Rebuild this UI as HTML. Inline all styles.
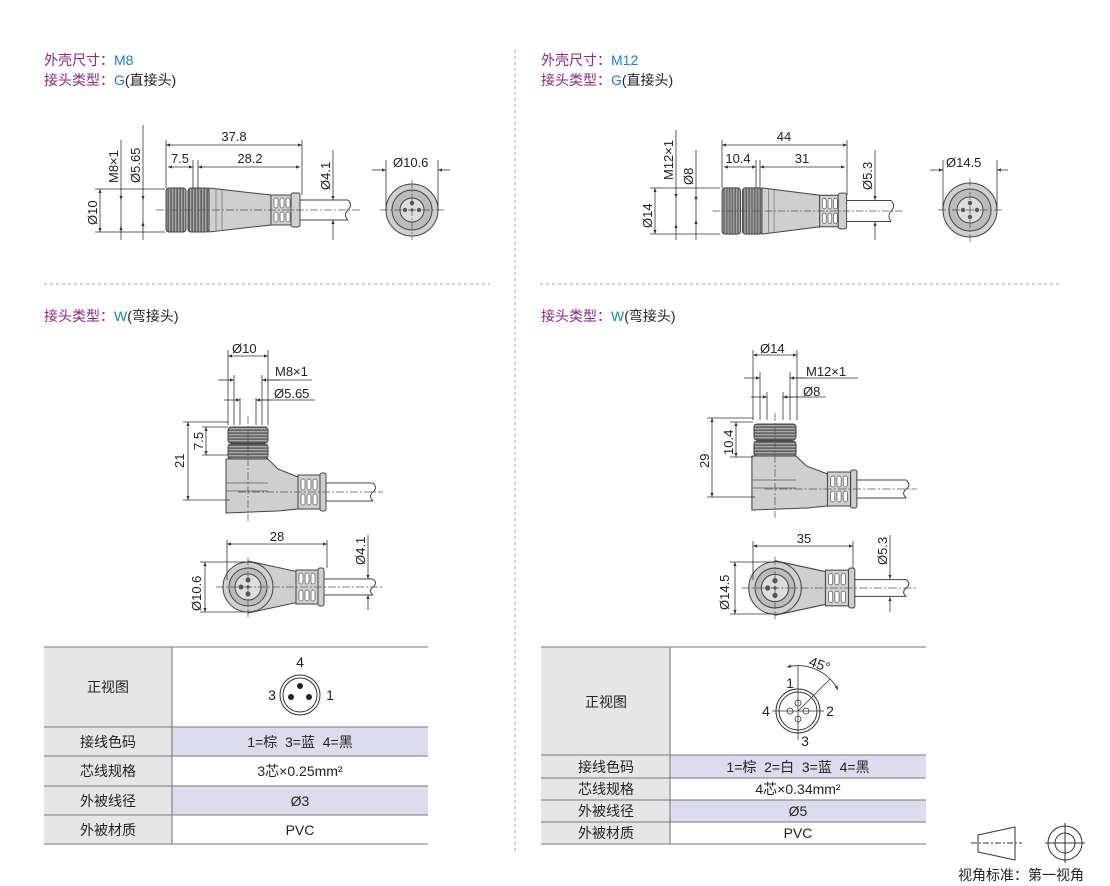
<!DOCTYPE html>
<html><head><meta charset="utf-8"><style>
body{margin:0;background:#fff;width:1110px;height:886px;overflow:hidden}
svg{display:block}
text{font-family:"Liberation Sans","Noto Sans CJK SC",sans-serif;fill:#222}
.p{fill:#8a2a7d}.b{fill:#1f7fc4}
.d{stroke:#333;stroke-width:0.8;fill:none}
.c{stroke:#555;stroke-width:0.7;stroke-dasharray:8 2 2 2;fill:none}
.o{stroke:#444;stroke-width:1;}
</style></head><body>
<svg width="1110" height="886" viewBox="0 0 1110 886">
<defs>
<marker id="a" viewBox="0 0 10 10" refX="10" refY="5" markerWidth="7" markerHeight="5" orient="auto-start-reverse"><path d="M0,1 L10,5 L0,9z" fill="#333"/></marker>
<pattern id="k" width="3" height="4" patternUnits="userSpaceOnUse"><rect width="3" height="4" fill="#666"/><rect width="1.3" height="4" fill="#aaa"/></pattern>
<pattern id="kv" width="4" height="3" patternUnits="userSpaceOnUse"><rect width="4" height="3" fill="#666"/><rect width="4" height="1.3" fill="#aaa"/></pattern>
<g id="st">
 <rect x="0" y="-22" width="20" height="44" rx="3" fill="url(#k)" class="o"/>
 <rect x="22" y="-22" width="21" height="44" rx="3" fill="url(#k)" class="o"/>
 <path d="M43,-22 L105,-15 L105,15 L43,22z" fill="#cfcfcf" class="o"/>
 <line x1="50" y1="-21" x2="50" y2="21" stroke="#888"/><line x1="56" y1="-20" x2="56" y2="20" stroke="#888"/>
 <rect x="105" y="-15" width="20" height="30" fill="#cfcfcf" class="o"/>
 <g fill="#fff" stroke="#555" stroke-width="0.7">
 <rect x="108" y="-12" width="4" height="10" rx="2"/><rect x="114" y="-12" width="4" height="10" rx="2"/><rect x="120" y="-12" width="4" height="10" rx="2"/>
 <rect x="108" y="2" width="4" height="10" rx="2"/><rect x="114" y="2" width="4" height="10" rx="2"/><rect x="120" y="2" width="4" height="10" rx="2"/></g>
 <rect x="125" y="-17" width="9" height="34" rx="2" fill="#cfcfcf" class="o"/>
 <path d="M134,-10 H182 M134,10 H182" class="o" stroke="#444" fill="none"/>
 <path d="M182,-10 q5,5 0,10 q-5,5 0,10" class="o" fill="none"/>
 <line x1="-10" y1="0" x2="195" y2="0" class="c"/>
</g>
<g id="bt">
 <rect x="-20" y="-34" width="40" height="16" rx="3" fill="url(#kv)" class="o"/>
 <rect x="-20" y="-17" width="40" height="15" rx="3" fill="url(#kv)" class="o"/>
 <path d="M-22,-2 H20 L30,8 L50,16 L50,48 L30,50 L-22,52 Z" fill="#cfcfcf" class="o"/>
 <path d="M-22,22 H20 M-22,30 H20" stroke="#777" fill="none"/>
 <rect x="50" y="14" width="22" height="34" fill="#cfcfcf" class="o"/>
 <g fill="#fff" stroke="#555" stroke-width="0.7">
 <rect x="53" y="18" width="4" height="11" rx="2"/><rect x="59" y="18" width="4" height="11" rx="2"/><rect x="65" y="18" width="4" height="11" rx="2"/>
 <rect x="53" y="33" width="4" height="11" rx="2"/><rect x="59" y="33" width="4" height="11" rx="2"/><rect x="65" y="33" width="4" height="11" rx="2"/></g>
 <rect x="72" y="12" width="6" height="38" rx="2" fill="#cfcfcf" class="o"/>
 <path d="M78,22 H125 M78,40 H125" stroke="#444" fill="none"/>
 <path d="M125,22 q5,5 0,9 q-5,4 0,9" class="o" fill="none"/>
 <line x1="0" y1="-45" x2="0" y2="60" class="c"/><line x1="-10" y1="31" x2="135" y2="31" class="c"/>
</g>
<g id="bb">
 <path d="M0,-26 L60,-13 L60,13 L0,26z" fill="#cfcfcf" class="o"/>
 <circle r="25" fill="#cfcfcf" class="o"/><circle r="19" fill="#bbb" class="o"/><circle r="13" fill="#ddd" class="o"/>
 <circle cx="0" cy="-7" r="2.5" fill="#555"/><circle cx="-7" cy="0" r="2.5" fill="#555"/><circle cx="0" cy="7" r="2.5" fill="#555"/><circle r="1.6" fill="#555"/>
 <rect x="48" y="-17" width="22" height="34" fill="#cfcfcf" class="o"/>
 <g fill="#fff" stroke="#555" stroke-width="0.7">
 <rect x="51" y="-14" width="4" height="11" rx="2"/><rect x="57" y="-14" width="4" height="11" rx="2"/><rect x="63" y="-14" width="4" height="11" rx="2"/>
 <rect x="51" y="3" width="4" height="11" rx="2"/><rect x="57" y="3" width="4" height="11" rx="2"/><rect x="63" y="3" width="4" height="11" rx="2"/></g>
 <rect x="70" y="-19" width="6" height="38" rx="2" fill="#cfcfcf" class="o"/>
 <path d="M76,-8 H125 M76,8 H125" stroke="#444" fill="none"/>
 <path d="M125,-8 q5,4 0,8 q-5,4 0,8" class="o" fill="none"/>
 <line x1="-32" y1="0" x2="135" y2="0" class="c"/><line x1="0" y1="-30" x2="0" y2="30" class="c"/>
</g>
</defs>

<line x1="515" y1="50" x2="515" y2="852" stroke="#aaa" stroke-dasharray="3 3"/>
<line x1="44" y1="284" x2="490" y2="284" stroke="#aaa" stroke-dasharray="3 3"/>
<line x1="540" y1="284" x2="1060" y2="284" stroke="#aaa" stroke-dasharray="3 3"/>

<g font-size="14">
<text x="44" y="65"><tspan class="p">外壳尺寸：</tspan><tspan class="b">M8</tspan></text>
<text x="44" y="85"><tspan class="p">接头类型：</tspan><tspan class="b">G</tspan><tspan>(直接头)</tspan></text>
<text x="541" y="65"><tspan class="p">外壳尺寸：</tspan><tspan class="b">M12</tspan></text>
<text x="541" y="85"><tspan class="p">接头类型：</tspan><tspan class="b">G</tspan><tspan>(直接头)</tspan></text>
<text x="44" y="321"><tspan class="p">接头类型：</tspan><tspan class="b">W</tspan><tspan>(弯接头)</tspan></text>
<text x="541" y="321"><tspan class="p">接头类型：</tspan><tspan class="b">W</tspan><tspan>(弯接头)</tspan></text>
</g>

<use href="#st" x="166" y="210"/>
<g class="d">
<line x1="166" y1="140" x2="166" y2="188"/><line x1="302" y1="140" x2="302" y2="195"/>
<line x1="166" y1="145" x2="302" y2="145" marker-start="url(#a)" marker-end="url(#a)"/>
<line x1="193" y1="160" x2="193" y2="188"/><line x1="198" y1="160" x2="198" y2="188"/>
<line x1="168" y1="167" x2="193" y2="167" marker-start="url(#a)" marker-end="url(#a)"/>
<line x1="198" y1="167" x2="300" y2="167" marker-start="url(#a)" marker-end="url(#a)"/>
<line x1="95" y1="189" x2="165" y2="189"/><line x1="95" y1="232" x2="165" y2="232"/>
<line x1="100" y1="189" x2="100" y2="232" marker-start="url(#a)" marker-end="url(#a)"/>
<line x1="121" y1="140" x2="121" y2="240"/><line x1="143" y1="125" x2="143" y2="240"/>
<line x1="121" y1="195" x2="121" y2="200" marker-end="url(#a)"/><line x1="121" y1="232" x2="121" y2="226" marker-end="url(#a)"/>
<line x1="143" y1="195" x2="143" y2="200" marker-end="url(#a)"/><line x1="143" y1="228" x2="143" y2="222" marker-end="url(#a)"/>
<line x1="333" y1="150" x2="333" y2="200" marker-end="url(#a)"/><line x1="333" y1="240" x2="333" y2="220" marker-end="url(#a)"/>
</g>
<g font-size="13">
<text x="234" y="141" text-anchor="middle">37.8</text>
<text x="180" y="163" text-anchor="middle">7.5</text>
<text x="250" y="163" text-anchor="middle">28.2</text>
<text transform="translate(97,225) rotate(-90)">Ø10</text>
<text transform="translate(118,183) rotate(-90)">M8×1</text>
<text transform="translate(140,183) rotate(-90)">Ø5.65</text>
<text transform="translate(330,190) rotate(-90)">Ø4.1</text>
<text x="393" y="167">Ø10.6</text>
</g>
<g>
<circle cx="412" cy="210" r="26" fill="#cfcfcf" class="o"/><circle cx="412" cy="210" r="20" fill="#bbb" class="o"/><circle cx="412" cy="210" r="12" fill="#ddd" class="o"/>
<circle cx="412" cy="203" r="2.2" fill="#555"/><circle cx="405" cy="210" r="2.2" fill="#555"/><circle cx="419" cy="210" r="2.2" fill="#555"/><circle cx="412" cy="210" r="1.5" fill="#555"/>
<line x1="380" y1="210" x2="444" y2="210" class="c"/><line x1="412" y1="180" x2="412" y2="240" class="c"/>
<g class="d"><line x1="386" y1="160" x2="386" y2="210"/><line x1="438" y1="160" x2="438" y2="210"/>
<line x1="372" y1="170" x2="386" y2="170" marker-end="url(#a)"/><line x1="450" y1="170" x2="438" y2="170" marker-end="url(#a)"/></g>
</g>

<use href="#st" x="0" y="0" transform="translate(722,211) scale(0.93,1.05)"/>
<g class="d">
<line x1="722" y1="140" x2="722" y2="188"/><line x1="847" y1="140" x2="847" y2="195"/>
<line x1="722" y1="145" x2="847" y2="145" marker-start="url(#a)" marker-end="url(#a)"/>
<line x1="756" y1="160" x2="756" y2="188"/><line x1="760" y1="160" x2="760" y2="188"/>
<line x1="724" y1="167" x2="756" y2="167" marker-start="url(#a)" marker-end="url(#a)"/>
<line x1="760" y1="167" x2="845" y2="167" marker-start="url(#a)" marker-end="url(#a)"/>
<line x1="650" y1="188" x2="720" y2="188"/><line x1="650" y1="234" x2="720" y2="234"/>
<line x1="655" y1="188" x2="655" y2="234" marker-start="url(#a)" marker-end="url(#a)"/>
<line x1="676" y1="130" x2="676" y2="240"/><line x1="696" y1="150" x2="696" y2="240"/>
<line x1="676" y1="193" x2="676" y2="198" marker-end="url(#a)"/><line x1="676" y1="230" x2="676" y2="224" marker-end="url(#a)"/>
<line x1="696" y1="196" x2="696" y2="201" marker-end="url(#a)"/><line x1="696" y1="226" x2="696" y2="220" marker-end="url(#a)"/>
<line x1="875" y1="150" x2="875" y2="200" marker-end="url(#a)"/><line x1="875" y1="240" x2="875" y2="222" marker-end="url(#a)"/>
</g>
<g font-size="13">
<text x="784" y="141" text-anchor="middle">44</text>
<text x="738" y="163" text-anchor="middle">10.4</text>
<text x="802" y="163" text-anchor="middle">31</text>
<text transform="translate(652,228) rotate(-90)">Ø14</text>
<text transform="translate(673,180) rotate(-90)">M12×1</text>
<text transform="translate(693,185) rotate(-90)">Ø8</text>
<text transform="translate(872,190) rotate(-90)">Ø5.3</text>
<text x="946" y="167">Ø14.5</text>
</g>
<g>
<circle cx="970" cy="210" r="27" fill="#cfcfcf" class="o"/><circle cx="970" cy="210" r="21" fill="#bbb" class="o"/><circle cx="970" cy="210" r="13" fill="#ddd" class="o"/>
<circle cx="970" cy="203" r="2.2" fill="#555"/><circle cx="963" cy="210" r="2.2" fill="#555"/><circle cx="977" cy="210" r="2.2" fill="#555"/><circle cx="970" cy="217" r="2.2" fill="#555"/>
<line x1="938" y1="210" x2="1002" y2="210" class="c"/><line x1="970" y1="178" x2="970" y2="242" class="c"/>
<g class="d"><line x1="943" y1="160" x2="943" y2="210"/><line x1="997" y1="160" x2="997" y2="210"/>
<line x1="930" y1="170" x2="943" y2="170" marker-end="url(#a)"/><line x1="1008" y1="170" x2="997" y2="170" marker-end="url(#a)"/></g>
</g>

<use href="#bt" x="248" y="461"/>
<g class="d">
<line x1="228" y1="350" x2="228" y2="425"/><line x1="268" y1="350" x2="268" y2="425"/>
<line x1="228" y1="356" x2="268" y2="356" marker-start="url(#a)" marker-end="url(#a)"/>
<line x1="234" y1="375" x2="234" y2="425"/><line x1="262" y1="375" x2="262" y2="425"/>
<line x1="218" y1="380" x2="234" y2="380" marker-end="url(#a)"/><line x1="280" y1="380" x2="262" y2="380" marker-end="url(#a)"/><line x1="262" y1="380" x2="312" y2="380"/>
<line x1="240" y1="398" x2="240" y2="425"/><line x1="256" y1="398" x2="256" y2="425"/>
<line x1="224" y1="400" x2="240" y2="400" marker-end="url(#a)"/><line x1="272" y1="400" x2="256" y2="400" marker-end="url(#a)"/><line x1="256" y1="400" x2="315" y2="400"/>
<line x1="183" y1="422" x2="228" y2="422"/><line x1="183" y1="500" x2="230" y2="500"/>
<line x1="188" y1="422" x2="188" y2="500" marker-start="url(#a)" marker-end="url(#a)"/>
<line x1="202" y1="427" x2="228" y2="427"/><line x1="202" y1="455" x2="228" y2="455"/>
<line x1="206" y1="427" x2="206" y2="455" marker-start="url(#a)" marker-end="url(#a)"/>
</g>
<g font-size="13">
<text x="232" y="353">Ø10</text><text x="275" y="376">M8×1</text><text x="274" y="398">Ø5.65</text>
<text transform="translate(184,468) rotate(-90)">21</text>
<text transform="translate(203,450) rotate(-90)">7.5</text>
<text x="277" y="541" text-anchor="middle">28</text>
<text transform="translate(201,611) rotate(-90)">Ø10.6</text>
<text transform="translate(365,565) rotate(-90)">Ø4.1</text>
</g>
<use href="#bb" x="248" y="587"/>
<g class="d">
<line x1="227" y1="540" x2="227" y2="580"/><line x1="327" y1="540" x2="327" y2="568"/>
<line x1="227" y1="544" x2="327" y2="544" marker-start="url(#a)" marker-end="url(#a)"/>
<line x1="200" y1="562" x2="248" y2="562"/><line x1="200" y1="612" x2="248" y2="612"/>
<line x1="205" y1="562" x2="205" y2="612" marker-start="url(#a)" marker-end="url(#a)"/>
<line x1="368" y1="535" x2="368" y2="579" marker-end="url(#a)"/><line x1="368" y1="610" x2="368" y2="595" marker-end="url(#a)"/>
</g>

<use href="#bt" transform="translate(775,458) scale(1.05,1)"/>
<g class="d">
<line x1="753" y1="350" x2="753" y2="420"/><line x1="797" y1="350" x2="797" y2="420"/>
<line x1="753" y1="355" x2="797" y2="355" marker-start="url(#a)" marker-end="url(#a)"/>
<line x1="760" y1="372" x2="760" y2="420"/><line x1="790" y1="372" x2="790" y2="420"/>
<line x1="744" y1="378" x2="760" y2="378" marker-end="url(#a)"/><line x1="806" y1="378" x2="790" y2="378" marker-end="url(#a)"/><line x1="790" y1="378" x2="858" y2="378"/>
<line x1="767" y1="392" x2="767" y2="420"/><line x1="783" y1="392" x2="783" y2="420"/>
<line x1="751" y1="397" x2="767" y2="397" marker-end="url(#a)"/><line x1="799" y1="397" x2="783" y2="397" marker-end="url(#a)"/><line x1="783" y1="397" x2="826" y2="397"/>
<line x1="707" y1="418" x2="753" y2="418"/><line x1="707" y1="497" x2="755" y2="497"/>
<line x1="712" y1="418" x2="712" y2="497" marker-start="url(#a)" marker-end="url(#a)"/>
<line x1="730" y1="422" x2="753" y2="422"/><line x1="730" y1="457" x2="753" y2="457"/>
<line x1="736" y1="422" x2="736" y2="457" marker-start="url(#a)" marker-end="url(#a)"/>
</g>
<g font-size="13">
<text x="760" y="353">Ø14</text><text x="806" y="376">M12×1</text><text x="803" y="396">Ø8</text>
<text transform="translate(709,468) rotate(-90)">29</text>
<text transform="translate(733,455) rotate(-90)">10.4</text>
<text x="804" y="543" text-anchor="middle">35</text>
<text transform="translate(729,610) rotate(-90)">Ø14.5</text>
<text transform="translate(887,565) rotate(-90)">Ø5.3</text>
</g>
<use href="#bb" transform="translate(775,588) scale(1.05,1.05)"/>
<g class="d">
<line x1="753" y1="541" x2="753" y2="580"/><line x1="853" y1="541" x2="853" y2="568"/>
<line x1="753" y1="546" x2="853" y2="546" marker-start="url(#a)" marker-end="url(#a)"/>
<line x1="730" y1="562" x2="775" y2="562"/><line x1="730" y1="614" x2="775" y2="614"/>
<line x1="735" y1="562" x2="735" y2="614" marker-start="url(#a)" marker-end="url(#a)"/>
<line x1="890" y1="535" x2="890" y2="579" marker-end="url(#a)"/><line x1="890" y1="612" x2="890" y2="597" marker-end="url(#a)"/>
</g>

<rect x="44" y="647" width="128" height="197" fill="#e6e6e6"/>
<rect x="172" y="727" width="256" height="29" fill="#dcdcee"/>
<rect x="172" y="786" width="256" height="29" fill="#dcdcee"/>
<g stroke="#777" stroke-width="1">
<line x1="44" y1="647" x2="428" y2="647"/><line x1="44" y1="727" x2="428" y2="727"/><line x1="44" y1="756" x2="428" y2="756"/>
<line x1="44" y1="786" x2="428" y2="786"/><line x1="44" y1="815" x2="428" y2="815"/><line x1="44" y1="844" x2="428" y2="844"/>
<line x1="172" y1="647" x2="172" y2="844"/></g>
<g font-size="14" text-anchor="middle">
<text x="108" y="692">正视图</text><text x="108" y="747">接线色码</text><text x="108" y="776">芯线规格</text><text x="108" y="806">外被线径</text><text x="108" y="835">外被材质</text>
<text x="300" y="747">1=棕&#160;&#160;3=蓝&#160;&#160;4=黑</text><text x="300" y="776">3芯×0.25mm²</text><text x="300" y="806">Ø3</text><text x="300" y="835">PVC</text>
<text x="300" y="667">4</text><text x="272" y="700">3</text><text x="330" y="700">1</text>
</g>
<circle cx="300" cy="695" r="20" fill="none" stroke="#333"/><circle cx="300" cy="695" r="17" fill="none" stroke="#333"/>
<circle cx="300" cy="686" r="3" fill="#222"/><circle cx="291" cy="697" r="3" fill="#222"/><circle cx="309" cy="697" r="3" fill="#222"/>

<rect x="541" y="647" width="129" height="197" fill="#e6e6e6"/>
<rect x="670" y="755" width="256" height="23" fill="#dcdcee"/>
<rect x="670" y="800" width="256" height="22" fill="#dcdcee"/>
<g stroke="#777" stroke-width="1">
<line x1="541" y1="647" x2="926" y2="647"/><line x1="541" y1="755" x2="926" y2="755"/><line x1="541" y1="778" x2="926" y2="778"/>
<line x1="541" y1="800" x2="926" y2="800"/><line x1="541" y1="822" x2="926" y2="822"/><line x1="541" y1="844" x2="926" y2="844"/>
<line x1="670" y1="647" x2="670" y2="844"/></g>
<g font-size="14" text-anchor="middle">
<text x="606" y="707">正视图</text><text x="606" y="772">接线色码</text><text x="606" y="794">芯线规格</text><text x="606" y="816">外被线径</text><text x="606" y="838">外被材质</text>
<text x="798" y="772">1=棕&#160;&#160;2=白&#160;&#160;3=蓝&#160;&#160;4=黑</text><text x="798" y="794">4芯×0.34mm²</text><text x="798" y="816">Ø5</text><text x="798" y="838">PVC</text>
<text x="790" y="688">1</text><text x="766" y="716">4</text><text x="830" y="716">2</text><text x="805" y="746">3</text>
<text x="818" y="669" transform="rotate(20 818 669)">45°</text>
</g>
<circle cx="798" cy="711" r="22" fill="none" stroke="#333"/><circle cx="798" cy="711" r="19" fill="none" stroke="#333"/>
<g fill="none" stroke="#333" stroke-width="0.8">
<circle cx="798" cy="703" r="3"/><circle cx="790" cy="711" r="3"/><circle cx="806" cy="711" r="3"/><circle cx="798" cy="719" r="3"/>
<line x1="798" y1="665" x2="798" y2="740"/><line x1="772" y1="711" x2="824" y2="711"/>
<line x1="798" y1="711" x2="830" y2="679"/>
<path d="M787,667 A45,45 0 0 1 838,690" marker-start="url(#a)" marker-end="url(#a)"/>
</g>

<g fill="none" stroke="#333" stroke-width="1">
<path d="M978,835 L1015,827 L1015,860 L978,852 Z"/>
<line x1="971" y1="843" x2="1022" y2="843" stroke-dasharray="6 2 2 2"/>
<circle cx="1065" cy="843" r="17"/><circle cx="1065" cy="843" r="10"/>
<line x1="1045" y1="843" x2="1085" y2="843"/><line x1="1065" y1="823" x2="1065" y2="863"/>
</g>
<text x="958" y="880" font-size="14">视角标准：第一视角</text>
</svg>
</body></html>
